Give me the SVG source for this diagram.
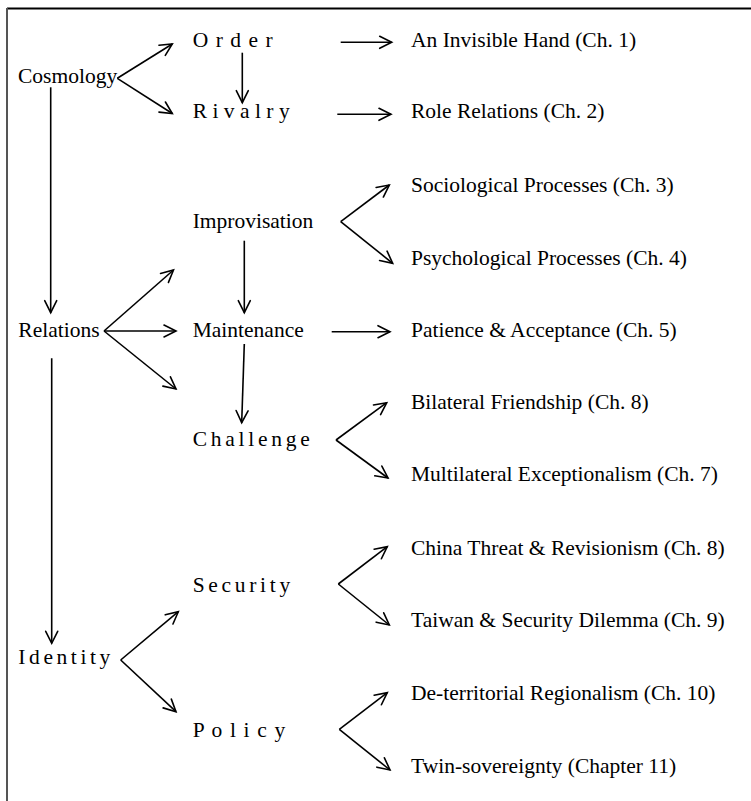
<svg xmlns="http://www.w3.org/2000/svg" width="751" height="801" viewBox="0 0 751 801">
<style>
text{font-family:"Liberation Serif","Times New Roman",serif;font-size:21.5px;fill:#000}
.c line{stroke:#000;stroke-width:1.6;marker-end:url(#ah)}
</style>
<defs>
<marker id="ah" markerUnits="userSpaceOnUse" markerWidth="20" markerHeight="20" viewBox="-15 -10 20 20" refX="0" refY="0" orient="auto" overflow="visible">
<path d="M-12,-6 L0,0 L-12,6" fill="none" stroke="#000" stroke-width="1.6" stroke-linecap="round" stroke-linejoin="miter"/>
</marker>
</defs>
<rect width="751" height="801" fill="#fff"/>
<g id="frame">
<line x1="7" y1="8.5" x2="751" y2="8.5" stroke="#000" stroke-width="1.8"/>
<line x1="7" y1="8" x2="7" y2="801" stroke="#555" stroke-width="2"/>
</g>
<g id="cosmology"><text x="18" y="83">Cosmology</text></g>
<g id="order"><text x="192.7" y="46.5" textLength="80" lengthAdjust="spacing">O r d e r</text></g>
<g id="rivalry"><text x="192.7" y="118" textLength="97" lengthAdjust="spacing">R i v a l r y</text></g>
<g id="invisible-hand"><text x="411" y="46.5">An Invisible Hand (Ch. 1)</text></g>
<g id="role-relations"><text x="411" y="118">Role Relations (Ch. 2)</text></g>
<g id="relations"><text x="18.3" y="336.7">Relations</text></g>
<g id="improvisation"><text x="192.7" y="228.3">Improvisation</text></g>
<g id="maintenance"><text x="192.7" y="336.7">Maintenance</text></g>
<g id="challenge"><text x="192.7" y="446" textLength="117" lengthAdjust="spacing">C h a l l e n g e</text></g>
<g id="sociological"><text x="411" y="191.7">Sociological Processes (Ch. 3)</text></g>
<g id="psychological"><text x="411" y="265">Psychological Processes (Ch. 4)</text></g>
<g id="patience"><text x="411" y="336.7">Patience &amp; Acceptance (Ch. 5)</text></g>
<g id="bilateral"><text x="411" y="409.3">Bilateral Friendship (Ch. 8)</text></g>
<g id="multilateral"><text x="411" y="481">Multilateral Exceptionalism (Ch. 7)</text></g>
<g id="identity"><text x="18.3" y="664" textLength="92" lengthAdjust="spacing">I d e n t i t y</text></g>
<g id="security"><text x="192.7" y="591.7" textLength="97.5" lengthAdjust="spacing">S e c u r i t y</text></g>
<g id="policy"><text x="192.7" y="736.7" textLength="92.5" lengthAdjust="spacing">P o l i c y</text></g>
<g id="china-threat"><text x="411" y="555">China Threat &amp; Revisionism (Ch. 8)</text></g>
<g id="taiwan"><text x="411" y="626.7">Taiwan &amp; Security Dilemma (Ch. 9)</text></g>
<g id="deterritorial"><text x="411" y="700">De-territorial Regionalism (Ch. 10)</text></g>
<g id="twin"><text x="411" y="772.7">Twin-sovereignty (Chapter 11)</text></g>
<g id="connectors" class="c">
<line x1="117.3" y1="78.3" x2="172.3" y2="44"/>
<line x1="117.3" y1="78.3" x2="172.3" y2="113.5"/>
<line x1="242.3" y1="52.7" x2="242.3" y2="102.7"/>
<line x1="340.7" y1="42.3" x2="391.7" y2="42.3"/>
<line x1="337.3" y1="114.3" x2="391" y2="114.3"/>
<line x1="50.7" y1="87.3" x2="50.7" y2="312.7"/>
<line x1="104" y1="331" x2="173.5" y2="270"/>
<line x1="104" y1="331" x2="176" y2="331"/>
<line x1="104" y1="331" x2="176" y2="389"/>
<line x1="244.3" y1="240.7" x2="244.3" y2="312.7"/>
<line x1="244.3" y1="344" x2="241.7" y2="422.7"/>
<line x1="331.7" y1="331.7" x2="390" y2="331.7"/>
<line x1="340.7" y1="221.7" x2="389.3" y2="185"/>
<line x1="340.7" y1="221.7" x2="392.7" y2="263.3"/>
<line x1="336" y1="440" x2="386.7" y2="402.7"/>
<line x1="336" y1="440" x2="388" y2="478"/>
<line x1="51.7" y1="358.3" x2="51.7" y2="643.3"/>
<line x1="120.7" y1="660" x2="178.3" y2="611.7"/>
<line x1="120.7" y1="660" x2="176" y2="711.7"/>
<line x1="338.3" y1="584" x2="387.3" y2="546.7"/>
<line x1="338.3" y1="584" x2="389.3" y2="625"/>
<line x1="339.3" y1="729.3" x2="387.3" y2="692.7"/>
<line x1="339.3" y1="729.3" x2="390" y2="770"/>
</g>
</svg>
